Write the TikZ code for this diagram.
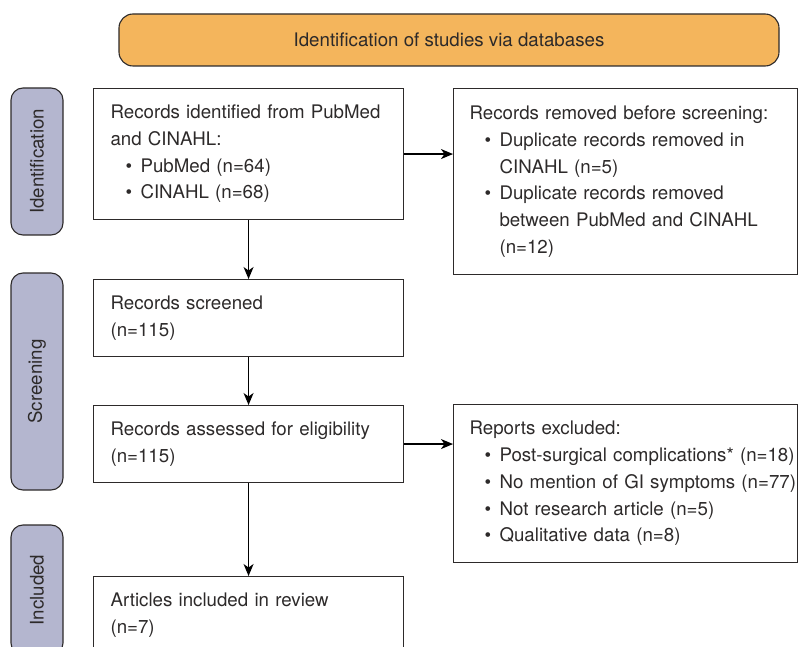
\documentclass[tikz,border=0pt]{standalone}
\usepackage{fontspec}
\setmainfont{TeX Gyre Heros}
\usetikzlibrary{arrows.meta}
\definecolor{phaseorange}{RGB}{244,181,92}
\definecolor{stagegray}{RGB}{180,182,207}
\definecolor{inkgray}{RGB}{45,42,42}
\newcommand{\bitem}[1]{\par\noindent\hspace*{15pt}\makebox[15pt][l]{\textbullet}#1}
\newcommand{\bcont}[1]{\par\noindent\hspace*{30pt}#1}

\begin{document}
\begin{tikzpicture}[x=1pt, y=-1pt,
  font=\fontsize{18.7pt}{26.7pt}\selectfont, text=inkgray,
  phase/.style={rectangle, rounded corners=14pt, draw=inkgray, line width=1.1pt, fill=phaseorange},
  stage/.style={rectangle, rounded corners=12pt, draw=inkgray, line width=1.1pt, fill=stagegray, rotate=90, minimum height=52pt},
  flowbox/.style={rectangle, draw=inkgray, line width=1.1pt, anchor=north west, align=left, inner xsep=17pt, inner ysep=0pt},
  leftbox/.style={flowbox, text width=276pt},
  rightbox/.style={flowbox, text width=312pt, inner xsep=16pt},
  flow/.style={-{Stealth[length=12pt, width=10pt, inset=3.5pt]}, line width=1.2pt, black}]
\useasboundingbox (0,0) rectangle (798,647);
\clip (0,0) rectangle (798,647);
\node[phase, minimum width=660pt, minimum height=52pt] (head) at (449,40) {Identification of studies via databases};
\node[stage, minimum width=147pt] (stident) at (37,161.5) {Identification};
\node[stage, minimum width=217pt] (stscreen) at (37,381.5) {Screening};
\node[stage, minimum width=130pt] (stincl) at (37,590) {Included};
\node[leftbox, minimum height=131pt] (ident) at (93,88) {Records identified from PubMed\\and CINAHL:\bitem{PubMed (n=64)}\bitem{CINAHL (n=68)}};
\node[rightbox, minimum height=186pt] (removed) at (453,88) {Records removed before screening:\bitem{Duplicate records removed in}\bcont{CINAHL (n=5)}\bitem{Duplicate records removed}\bcont{between PubMed and CINAHL}\bcont{(n=12)}};
\node[leftbox, minimum height=77pt] (screened) at (93,279) {Records screened\\(n=115)};
\node[leftbox, minimum height=77pt] (assessed) at (93,405) {Records assessed for eligibility\\(n=115)};
\node[rightbox, minimum height=158pt] (excluded) at (453,404) {Reports excluded:\bitem{\mbox{Post-surgical complications* (n=18)}}\bitem{\mbox{No mention of GI symptoms (n=77)}}\bitem{Not research article (n=5)}\bitem{Qualitative data (n=8)}};
\node[leftbox, minimum height=77pt] (included) at (93,576) {Articles included in review\\(n=7)};
\draw[flow] (ident) -- (ident -| removed.west);
\draw[flow] (ident) -- (screened);
\draw[flow] (screened) -- (assessed);
\draw[flow] (assessed) -- (assessed -| excluded.west);
\draw[flow] (assessed) -- (included);
\end{tikzpicture}
\end{document}
